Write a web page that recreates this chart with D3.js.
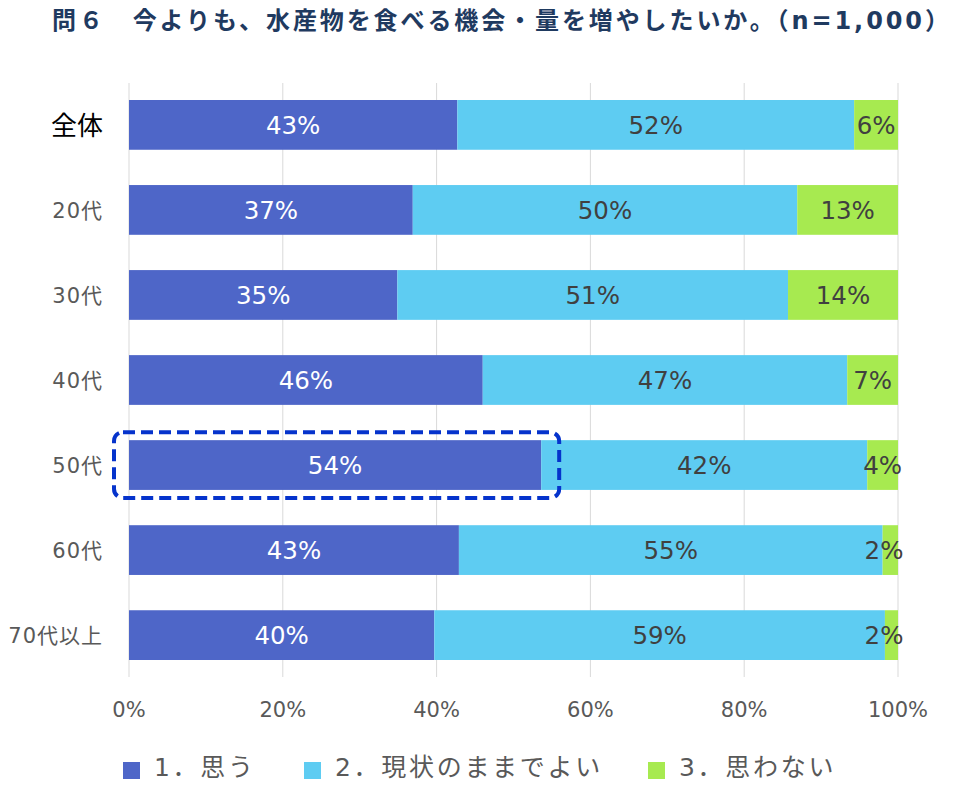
<!DOCTYPE html>
<html><head><meta charset="utf-8">
<script src="https://cdn.jsdelivr.net/npm/d3@7"></script>
<style>
body{margin:0;background:#fff;}
text{font-family:"DejaVu Sans","Noto Sans CJK JP",sans-serif;}
</style></head>
<body><svg id="c" width="960" height="789"></svg>
<script>
const title = "問６　今よりも、水産物を食べる機会・量を増やしたいか。（n=1,000）";
const categories = ["全体","20代","30代","40代","50代","60代","70代以上"];
const seriesNames = ["1．思う","2．現状のままでよい","3．思わない"];
const think = [42.7,36.9,34.9,46.0,53.6,42.9,39.7];
const asIs = [51.6,50.0,50.8,47.4,42.4,55.1,58.6];
const notThink = [5.7,13.1,14.3,6.6,4.0,2.0,1.7];
const labelsThink = ["43%","37%","35%","46%","54%","43%","40%"];
const labelsAsIs = ["52%","50%","51%","47%","42%","55%","59%"];
const labelsNot = ["6%","13%","14%","7%","4%","2%","2%"];
const ticks = [0,20,40,60,80,100];
const highlight = "50代";

const colors = ["#4E66C8","#5ECCF2","#A7EA50"];
const textColors = ["#FFFFFF","#404040","#404040"];
const svg = d3.select("#c");

const x = d3.scaleLinear().domain([0,100]).range([129,898]);
const y = d3.scaleBand().domain(categories).range([83,677]).paddingInner(0.415).paddingOuter(0.2);

// title
svg.append("text").attr("x",52).attr("y",29).attr("fill","#1F3A60")
  .attr("font-family","'Noto Sans CJK JP',sans-serif").attr("font-weight","bold")
  .attr("font-size",24).attr("letter-spacing",2.9).text(title);

// grid
svg.append("g").selectAll("line").data(ticks).join("line")
  .attr("x1",d=>x(d)).attr("x2",d=>x(d)).attr("y1",83).attr("y2",677)
  .attr("stroke","#D9D9D9").attr("stroke-width",1);

// tick labels
svg.append("g").selectAll("text").data(ticks).join("text")
  .attr("x",d=>x(d)).attr("y",717).attr("text-anchor","middle")
  .attr("fill","#595959").attr("font-size",21).text(d=>d+"%");

// stacked data
const rows = categories.map((c,i)=>({cat:c,v:[think[i],asIs[i],notThink[i]],l:[labelsThink[i],labelsAsIs[i],labelsNot[i]]}));
const segs = [];
rows.forEach(r=>{let acc=0;r.v.forEach((v,k)=>{segs.push({cat:r.cat,k,x0:acc,x1:acc+v,label:r.l[k]});acc+=v;});});

svg.append("g").selectAll("rect").data(segs).join("rect")
  .attr("x",d=>x(d.x0)).attr("width",d=>x(d.x1)-x(d.x0))
  .attr("y",d=>y(d.cat)).attr("height",y.bandwidth())
  .attr("fill",d=>colors[d.k]);

svg.append("g").selectAll("text").data(segs).join("text")
  .attr("x",d=>{const c=(x(d.x0)+x(d.x1))/2; return d.k===2? Math.min(c, x(d.x1)-14) : c;})
  .attr("y",d=>y(d.cat)+y.bandwidth()/2+9)
  .attr("text-anchor","middle").attr("font-size",24.5)
  .attr("fill",d=>textColors[d.k]).text(d=>d.label);

// category labels
svg.append("g").selectAll("text").data(categories).join("text")
  .attr("x",103).attr("y",d=>y(d)+y.bandwidth()/2+(d==="全体"?10:8))
  .attr("text-anchor","end")
  .attr("font-family","'Noto Sans CJK JP',sans-serif")
  .attr("font-size",d=>d==="全体"?26:21)
  .attr("letter-spacing",d=>d==="全体"?0:1)
  .attr("fill",d=>d==="全体"?"#000":"#595959").text(d=>d);

// highlight box
const hi = categories.indexOf(highlight);
svg.append("rect")
  .attr("x",x(0)-15).attr("y",y(highlight)-8)
  .attr("width",x(think[hi])-x(0)+33).attr("height",y.bandwidth()+16)
  .attr("rx",9).attr("fill","none").attr("stroke","#0533CC")
  .attr("stroke-width",4).attr("stroke-dasharray","12,6");

// legend
const legX = [123,304,648];
const lg = svg.append("g").selectAll("g").data(seriesNames).join("g")
  .attr("transform",(d,i)=>`translate(${legX[i]},0)`);
lg.append("rect").attr("x",0).attr("y",762).attr("width",17).attr("height",17).attr("fill",(d,i)=>colors[i]);
lg.append("text").attr("x",31).attr("y",776).attr("font-size",25).attr("fill","#595959")
  .attr("font-family","'Noto Sans CJK JP',sans-serif").attr("letter-spacing",2.7).text(d=>d);
</script></body></html>
